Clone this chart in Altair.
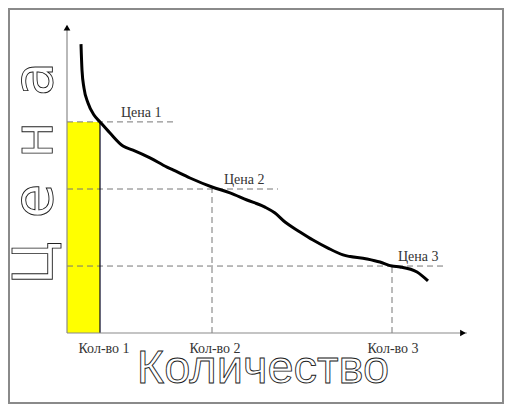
import altair as alt
import pandas as pd

# Demand curve (abstract units: quantity 0..100, price 0..100)
curve_q = [3.5, 3.75, 4.25, 5.25, 6.75, 8.25, 10.75, 14, 16.5, 20.75, 25, 26.5, 30.75,
           36.25, 40.75, 45, 49.5, 52, 54.5, 58.25, 61.5, 65.25, 69, 75, 78.25, 81.25,
           83.25, 87.5, 90.25]
curve_p = [93.2, 84.8, 79.0, 74.2, 70.3, 68.1, 64.5, 60.3, 59.0, 56.5, 53.5, 52.6, 50.0,
           47.1, 45.2, 42.9, 40.6, 38.7, 35.8, 32.6, 30.0, 27.4, 25.2, 23.9, 22.9, 21.6,
           21.3, 19.7, 16.8]

# Marked points
price_levels = [68.1, 46.45, 21.6]
price_line_end = [27.5, 52.75, 94.5]
price_labels = ["Цена 1", "Цена 2", "Цена 3"]
price_label_q = [13.5, 39.25, 82.75]
qty_levels = [8.25, 36.25, 81.25]
qty_labels = ["Кол-во 1", "Кол-во 2", "Кол-во 3"]
qty_label_q = [9.25, 37.0, 81.5]

# Big axis titles
x_title = "Количество"
y_title_letters = ["Ц", "е", "н", "а"]
y_title_pos = [22.6, 42.6, 62.3, 81.9]

XD = [-14.75, 109.25]
YD = [-22.903, 104.839]
xs = alt.Scale(domain=XD, nice=False, zero=False)
ys = alt.Scale(domain=YD, nice=False, zero=False)

def X(f="q"):
    return alt.X(f + ":Q", scale=xs, axis=None)

def Y(f="p"):
    return alt.Y(f + ":Q", scale=ys, axis=None)

one = pd.DataFrame({"a": [0]})

border = alt.Chart(one).mark_rect(fill=None, stroke="#8a8a8a", strokeWidth=2).encode(
    x=alt.value(1), x2=alt.value(495), y=alt.value(1), y2=alt.value(395))

rect_df = pd.DataFrame({"q": [0], "q2": [qty_levels[0]], "p": [0], "p2": [price_levels[0]]})
yellow = alt.Chart(rect_df).mark_rect(color="#ffff00").encode(
    x=X(), x2="q2:Q", y=Y(), y2="p2:Q")
yellow_edge = alt.Chart(rect_df).mark_rule(color="#000022", strokeWidth=1.2).encode(
    x=alt.X("q2:Q", scale=xs, axis=None), y=Y(), y2="p2:Q")

hdf = pd.DataFrame({"p": price_levels, "q": [0, 0, 0], "q2": price_line_end})
hlines = alt.Chart(hdf).mark_rule(color="#777777", strokeDash=[6, 4], strokeWidth=1).encode(
    x=X(), x2="q2:Q", y=Y())
vdf = pd.DataFrame({"q": qty_levels[1:], "p": [0, 0], "p2": price_levels[1:]})
vlines = alt.Chart(vdf).mark_rule(color="#777777", strokeDash=[6, 4], strokeWidth=1).encode(
    x=X(), y=Y(), y2="p2:Q")

axes_df = pd.DataFrame({"q": [0, 0], "q2": [100, 0], "p": [0, 0], "p2": [0, 99]})
axes = alt.Chart(axes_df).mark_rule(color="#8a8a8a", strokeWidth=1.2).encode(
    x=X(), x2="q2:Q", y=Y(), y2="p2:Q")
arr_x = alt.Chart(pd.DataFrame({"q": [99], "p": [0]})).mark_point(
    shape="triangle-right", filled=True, color="black", size=45, opacity=1).encode(x=X(), y=Y())
arr_y = alt.Chart(pd.DataFrame({"q": [0], "p": [98.5]})).mark_point(
    shape="triangle-up", filled=True, color="black", size=45, opacity=1).encode(x=X(), y=Y())

curve = alt.Chart(pd.DataFrame({"q": curve_q, "p": curve_p})).mark_line(
    color="black", strokeWidth=3, interpolate="monotone").encode(x=X(), y=Y(), order="q:Q")

pl = alt.Chart(pd.DataFrame({"q": price_label_q, "p": price_levels, "t": price_labels})).mark_text(
    font="Liberation Serif", fontSize=14, color="#333333", align="left", baseline="alphabetic", dy=-5
).encode(x=X(), y=Y(), text="t:N")
ql = alt.Chart(pd.DataFrame({"q": qty_label_q, "p": [0, 0, 0], "t": qty_labels})).mark_text(
    font="Liberation Serif", fontSize=14, color="#333333", align="center", baseline="alphabetic", dy=20
).encode(x=X(), y=Y(), text="t:N")

xt = alt.Chart(pd.DataFrame({"q": [49], "p": [-16.1], "t": [x_title]})).mark_text(
    font="Liberation Sans", fontSize=47, fill="white",
    stroke="#222222", strokeWidth=0.9, align="center", baseline="alphabetic"
).encode(x=X(), y=Y(), text="t:N")

yt = alt.Chart(pd.DataFrame({"q": [-3.75] * 4, "p": y_title_pos, "t": y_title_letters})).mark_text(
    font="DejaVu Sans", fontSize=56, fill="white", stroke="#222222", strokeWidth=0.9,
    align="center", baseline="alphabetic", angle=270
).encode(x=X(), y=Y(), text="t:N")

chart = alt.layer(border, yellow, hlines, vlines, yellow_edge, axes, arr_x, arr_y, curve,
                  pl, ql, xt, yt).properties(
    width=496, height=396, autosize=alt.AutoSizeParams(type="none"), padding=0
).configure_view(stroke=None)

chart.save("out.html", embed_options={"renderer": "svg", "actions": False})
